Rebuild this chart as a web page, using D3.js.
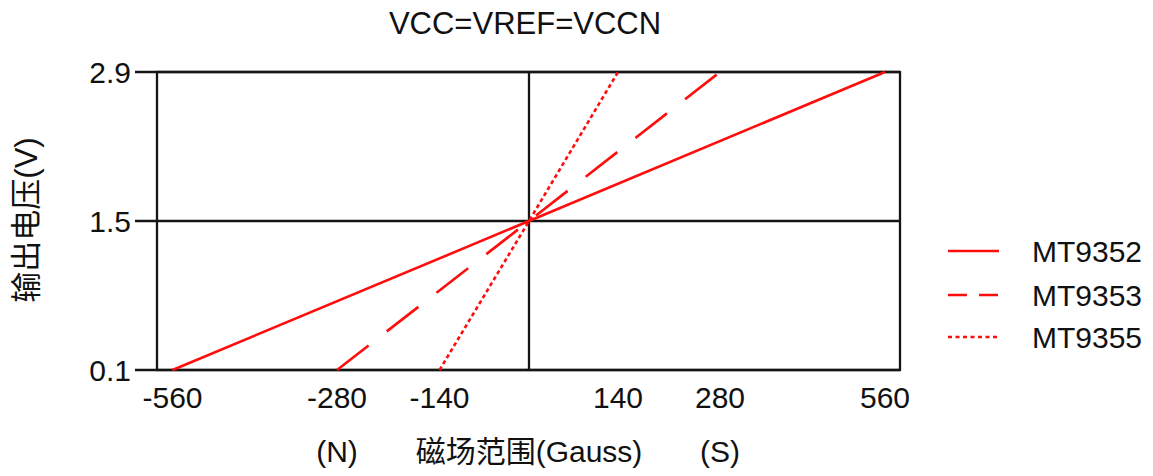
<!DOCTYPE html>
<html><head><meta charset="utf-8">
<script src="https://cdn.jsdelivr.net/npm/d3@7"></script>
<style>
body{margin:0;background:#fff;}
text{font-family:"Liberation Sans",Arial,"Noto Sans CJK SC",sans-serif;fill:#111;}
</style></head>
<body><svg id="c" width="1153" height="476"></svg>
<script>
const title = "VCC=VREF=VCCN";
const xTicks = [-560, -280, -140, 140, 280, 560];
const yTicks = [0.1, 1.5, 2.9];
const seriesNames = ["MT9352", "MT9353", "MT9355"];
const mt9352 = [[-560, 0.1], [0, 1.5], [560, 2.9]];
const mt9353 = [[-280, 0.1], [0, 1.5], [280, 2.9]];
const mt9355 = [[-140, 0.1], [0, 1.5], [140, 2.9]];
const xLabels = [[-280, "(N)"], [0, "磁场范围(Gauss)"], [280, "(S)"]];
const yLabel = "输出电压(V)";

const svg = d3.select("#c");
const L = 157, R = 900, T = 72, B = 370;
const x = d3.scaleLinear()
  .domain([-560, -280, -140, 0, 140, 280, 560])
  .range([172.5, 337, 439.5, 529, 618, 720, 885]);
const y = d3.scaleLinear().domain([0.1, 2.9]).range([B, T]);

const ink = "#151515";
const fs = 30;
svg.append("rect").attr("x", L).attr("y", T).attr("width", R - L).attr("height", B - T)
  .attr("fill", "none").attr("stroke", ink).attr("stroke-width", 2.3);
yTicks.forEach(v => {
  svg.append("line").attr("x1", 135).attr("x2", R).attr("y1", y(v)).attr("y2", y(v))
    .attr("stroke", ink).attr("stroke-width", 2.3);
  svg.append("text").attr("x", 131).attr("y", y(v)).attr("text-anchor", "end")
    .attr("dominant-baseline", "central").attr("font-size", fs).text(v.toFixed(1));
});
svg.append("line").attr("x1", x(0)).attr("x2", x(0)).attr("y1", T).attr("y2", B)
  .attr("stroke", ink).attr("stroke-width", 2.3);

xTicks.forEach(v => {
  svg.append("text").attr("x", x(v)).attr("y", 408).attr("text-anchor", "middle")
    .attr("font-size", fs).text(v);
});
xLabels.forEach(([v, t]) => {
  svg.append("text").attr("x", x(v)).attr("y", 462).attr("text-anchor", "middle")
    .attr("font-size", fs).text(t);
});
svg.append("text").attr("transform", "translate(37,220) rotate(-90)")
  .attr("text-anchor", "middle").attr("font-size", 31).text(yLabel);
svg.append("text").attr("x", 525).attr("y", 34).attr("text-anchor", "middle")
  .attr("font-size", 31).text(title);

const red = "#ff0d0d";
const line = d3.line().x(d => x(d[0])).y(d => y(d[1]));
const data = [mt9352, mt9353, mt9355];
const dashes = [null, "40,23", "4,3"];
const legDashes = [null, "19,12", "4,3.5"];
data.forEach((d, i) => {
  svg.append("path").attr("d", line(d)).attr("fill", "none").attr("stroke", red)
    .attr("stroke-width", 2.6).attr("stroke-dasharray", dashes[i]);
});
const legY = [251, 295, 337];
seriesNames.forEach((n, i) => {
  svg.append("line").attr("x1", 948).attr("x2", 999).attr("y1", legY[i]).attr("y2", legY[i])
    .attr("stroke", red).attr("stroke-width", 2.6).attr("stroke-dasharray", legDashes[i]);
  svg.append("text").attr("x", 1032).attr("y", legY[i]).attr("dominant-baseline", "central")
    .attr("font-size", fs).text(n);
});
</script></body></html>
